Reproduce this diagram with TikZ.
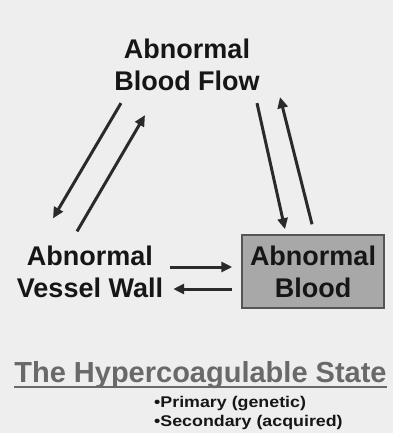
\documentclass[tikz,border=0pt]{standalone}
\usepackage{xcolor}
\usepackage{fontspec}
\setmainfont{Liberation Sans}
\newfontfamily\widefont{Liberation Sans}[FakeStretch=1.15]
\usepackage{tikz}
\usetikzlibrary{arrows.meta,positioning,calc}

\definecolor{bggray}{RGB}{238,238,238}
\definecolor{inkgray}{RGB}{22,22,22}
\definecolor{arrowgray}{RGB}{42,42,42}
\definecolor{boxfill}{RGB}{168,168,168}
\definecolor{boxedge}{RGB}{85,85,85}
\definecolor{titlegray}{RGB}{105,105,105}

\begin{document}
\begin{tikzpicture}[
  x=1pt, y=-1pt,
  font=\bfseries\fontsize{27}{32}\selectfont,
  factor/.style={align=center, inner sep=2pt, text=inkgray},
  bloodbox/.style={factor, draw=boxedge, fill=boxfill, line width=1.5pt,
                   minimum width=142pt, minimum height=73pt},
  arr/.style={-{Triangle[length=11pt,width=10pt]}, line width=3pt, draw=arrowgray},
  heading/.style={inner sep=0pt, text=titlegray, font=\bfseries\fontsize{29}{34}\selectfont},
  types/.style={inner sep=0pt, align=left, text=inkgray,
                font=\widefont\bfseries\fontsize{15.5}{19}\selectfont}
]
\fill[bggray] (0,0) rectangle (393,433);
\useasboundingbox (0,0) rectangle (393,433);

\node[factor] (flow) at (187,65) {Abnormal\\ Blood Flow};
\node[factor] (wall) at (90,271.5) {Abnormal\\ Vessel Wall};
\node[bloodbox] (blood) at (313,271.5) {Abnormal\\ Blood};

% flow <-> wall
\draw[arr] ([shift={(-66pt,-10pt)}]flow.south) -- ([shift={(-37pt,25pt)}]wall.north);
\draw[arr] ([shift={(-13pt,12pt)}]wall.north) -- ([shift={(-42pt,-22pt)}]flow.south);
% flow <-> blood
\draw[arr] ([shift={(70pt,-10pt)}]flow.south) -- ([shift={(-28pt,5pt)}]blood.north);
\draw[arr] ([shift={(-1pt,10pt)}]blood.north) -- ([shift={(93pt,-4pt)}]flow.south);
% wall <-> blood
\draw[arr] ([shift={(5pt,4.5pt)}]wall.east) -- ([shift={(-9pt,4.5pt)}]blood.west);
\draw[arr] ([shift={(-9pt,-17.5pt)}]blood.west) -- ([shift={(8pt,-17.5pt)}]wall.east);

\node[heading, anchor=base] (title) at (200.5,382) {The Hypercoagulable State};
\draw[titlegray, line width=2pt] ([yshift=-5pt]title.base west) -- ([yshift=-5pt]title.base east);
\node[types, anchor=north west] (kinds) at (154,396) {•Primary (genetic)\\ •Secondary (acquired)};
\end{tikzpicture}
\end{document}
